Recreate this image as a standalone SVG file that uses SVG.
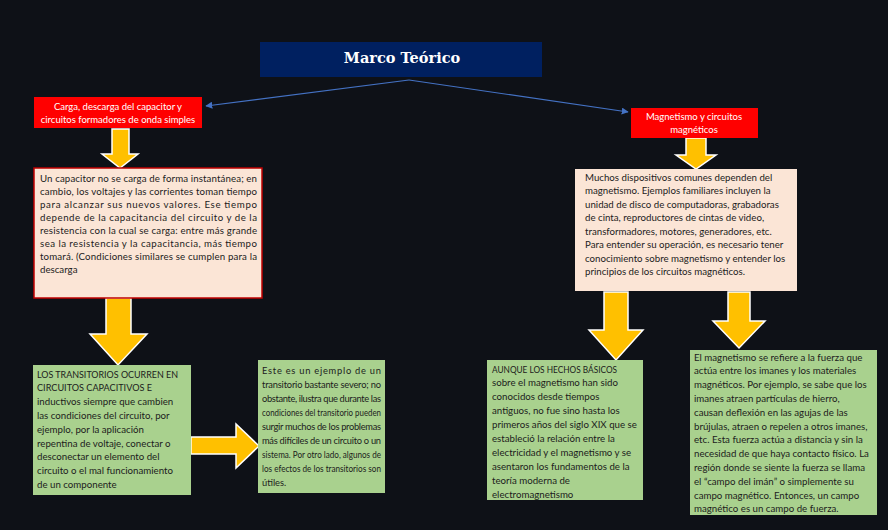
<svg xmlns="http://www.w3.org/2000/svg" width="888" height="530" viewBox="0 0 888 530">
<defs>
<style>
.bg{fill:#0e1117}
.title{fill:#002060}
.red{fill:#ff0000}
.peach{fill:#fbe5d6}
.peachb{fill:#fbe5d6;stroke:#c00000;stroke-width:1.5}
.green{fill:#a9d18e}
.tt{font-family:"DejaVu Serif",serif;font-weight:bold;font-size:14.5px;fill:#ffffff;text-anchor:middle}
.rt{font-family:Lato,"Liberation Sans",sans-serif;font-size:9.5px;fill:#ffffff;text-anchor:middle}
.bt{font-family:Lato,"Liberation Sans",sans-serif;font-size:9.7px;fill:#1c1c1c}
.st{font-family:Lato,"Liberation Sans",sans-serif;font-size:9.3px;fill:#1c1c1c}
.link{fill:none;stroke:#4472c4;stroke-width:1.2}
.ya{fill:#ffc000;stroke:#ffffff;stroke-width:1.5;stroke-linejoin:miter}
</style>
<marker id="ah" viewBox="0 0 10 10" refX="9" refY="5" markerWidth="7" markerHeight="7" orient="auto" markerUnits="userSpaceOnUse">
<path d="M0,0 L10,5 L0,10 z" fill="#4472c4"/>
</marker>
</defs>
<rect class="bg" x="0" y="0" width="888" height="530"/>

<g id="connectors">
<line class="link" x1="409" y1="80" x2="206" y2="106" marker-end="url(#ah)"/>
<line class="link" x1="409" y1="80" x2="628" y2="112" marker-end="url(#ah)"/>
<polygon class="ya" points="112,129 129,129 129,154 138,154 120,168 102,154 112,154"/>
<polygon class="ya" points="106,298 131,298 131,334 147,334 118,365 90,334 106,334"/>
<polygon class="ya" points="191,437 236,437 236,424 259,446 236,468 236,454 191,454"/>
<polygon class="ya" points="686,138 706,138 706,155 716,155 696,169 676,155 686,155"/>
<polygon class="ya" points="604,292 628,292 628,330 643,330 616,360 589,330 604,330"/>
<polygon class="ya" points="728,292 750,292 750,321 765,321 739,348 713,321 728,321"/>
</g>

<g id="marco-teorico">
<rect class="title" x="260" y="42" width="282" height="35"/>
<text class="tt" x="402" y="63">Marco Teórico</text>
</g>

<g id="carga-descarga">
<rect class="red" x="34" y="97" width="168" height="31"/>
<text class="rt" x="118" y="110">Carga, descarga del capacitor y</text>
<text class="rt" x="118" y="122.5">circuitos formadores de onda simples</text>
</g>

<g id="magnetismo">
<rect class="red" x="631" y="108" width="127" height="30"/>
<text class="rt" x="694" y="120">Magnetismo y circuitos</text>
<text class="rt" x="694" y="132.5">magnéticos</text>
</g>

<g id="capacitor-texto">
<rect class="peachb" x="34" y="168" width="228" height="130"/>
<text class="bt" x="40" y="181.5" textLength="217" lengthAdjust="spacing">Un capacitor no se carga de forma instantánea; en</text>
<text class="bt" x="40" y="194.5" textLength="217" lengthAdjust="spacing">cambio, los voltajes y las corrientes toman tiempo</text>
<text class="bt" x="40" y="207.5" textLength="217" lengthAdjust="spacing">para alcanzar sus nuevos valores. Ese tiempo</text>
<text class="bt" x="40" y="220.5" textLength="217" lengthAdjust="spacing">depende de la capacitancia del circuito y de la</text>
<text class="bt" x="40" y="233.5" textLength="217" lengthAdjust="spacing">resistencia con la cual se carga: entre más grande</text>
<text class="bt" x="40" y="246.5" textLength="217" lengthAdjust="spacing">sea la resistencia y la capacitancia, más tiempo</text>
<text class="bt" x="40" y="259.5" textLength="217" lengthAdjust="spacing">tomará. (Condiciones similares se cumplen para la</text>
<text class="bt" x="40" y="272.5">descarga</text>
</g>

<g id="magnetismo-texto">
<rect class="peach" x="575" y="169" width="222" height="122"/>
<text class="bt" x="585" y="180.5">Muchos dispositivos comunes dependen del</text>
<text class="bt" x="585" y="194">magnetismo. Ejemplos familiares incluyen la</text>
<text class="bt" x="585" y="207.5">unidad de disco de computadoras, grabadoras</text>
<text class="bt" x="585" y="221">de cinta, reproductores de cintas de video,</text>
<text class="bt" x="585" y="234.5">transformadores, motores, generadores, etc.</text>
<text class="bt" x="585" y="248">Para entender su operación, es necesario tener</text>
<text class="bt" x="585" y="261.5">conocimiento sobre magnetismo y entender los</text>
<text class="bt" x="585" y="275">principios de los circuitos magnéticos.</text>
</g>

<g id="transitorios">
<rect class="green" x="33" y="365" width="158" height="130"/>
<text class="bt" x="37" y="377.5" textLength="141" lengthAdjust="spacingAndGlyphs">LOS TRANSITORIOS OCURREN EN</text>
<text class="bt" x="37" y="391.3" textLength="115" lengthAdjust="spacingAndGlyphs">CIRCUITOS CAPACITIVOS E</text>
<text class="bt" x="37" y="405.1">inductivos siempre que cambien</text>
<text class="bt" x="37" y="418.9">las condiciones del circuito, por</text>
<text class="bt" x="37" y="432.7">ejemplo, por la aplicación</text>
<text class="bt" x="37" y="446.5">repentina de voltaje, conectar o</text>
<text class="bt" x="37" y="460.3">desconectar un elemento del</text>
<text class="bt" x="37" y="474.1">circuito o el mal funcionamiento</text>
<text class="bt" x="37" y="487.9">de un componente</text>
</g>

<g id="ejemplo-transitorio">
<rect class="green" x="258" y="360" width="127" height="133"/>
<text class="st" x="262" y="373.5" textLength="119" lengthAdjust="spacing">Este es un ejemplo de un</text>
<text class="st" x="262" y="387.5" textLength="119" lengthAdjust="spacing">transitorio bastante severo; no</text>
<text class="st" x="262" y="401.5" textLength="119" lengthAdjust="spacing">obstante, ilustra que durante las</text>
<text class="st" x="262" y="415.5" textLength="119" lengthAdjust="spacingAndGlyphs">condiciones del transitorio pueden</text>
<text class="st" x="262" y="429.5" textLength="119" lengthAdjust="spacing">surgir muchos de los problemas</text>
<text class="st" x="262" y="443.5" textLength="119" lengthAdjust="spacing">más difíciles de un circuito o un</text>
<text class="st" x="262" y="457.5" textLength="119" lengthAdjust="spacingAndGlyphs">sistema. Por otro lado, algunos de</text>
<text class="st" x="262" y="471.5" textLength="119" lengthAdjust="spacingAndGlyphs">los efectos de los transitorios son</text>
<text class="st" x="262" y="485.5">útiles.</text>
</g>

<g id="hechos-basicos">
<rect class="green" x="487" y="360" width="156" height="140"/>
<text class="bt" x="492" y="372.5" textLength="125" lengthAdjust="spacingAndGlyphs">AUNQUE LOS HECHOS BÁSICOS</text>
<text class="bt" x="492" y="386.4">sobre el magnetismo han sido</text>
<text class="bt" x="492" y="400.3">conocidos desde tiempos</text>
<text class="bt" x="492" y="414.2">antiguos, no fue sino hasta los</text>
<text class="bt" x="492" y="428.1">primeros años del siglo XIX que se</text>
<text class="bt" x="492" y="442">estableció la relación entre la</text>
<text class="bt" x="492" y="455.9">electricidad y el magnetismo y se</text>
<text class="bt" x="492" y="469.8">asentaron los fundamentos de la</text>
<text class="bt" x="492" y="483.7">teoría moderna de</text>
<text class="bt" x="492" y="497.6">electromagnetismo</text>
</g>

<g id="definicion-magnetismo">
<rect class="green" x="690" y="350" width="187" height="165"/>
<text class="bt" x="694" y="360.5">El magnetismo se refiere a la fuerza que</text>
<text class="bt" x="694" y="374.3">actúa entre los imanes y los materiales</text>
<text class="bt" x="694" y="388.1">magnéticos. Por ejemplo, se sabe que los</text>
<text class="bt" x="694" y="401.9">imanes atraen partículas de hierro,</text>
<text class="bt" x="694" y="415.7">causan deflexión en las agujas de las</text>
<text class="bt" x="694" y="429.5">brújulas, atraen o repelen a otros imanes,</text>
<text class="bt" x="694" y="443.3">etc. Esta fuerza actúa a distancia y sin la</text>
<text class="bt" x="694" y="457.1">necesidad de que haya contacto físico. La</text>
<text class="bt" x="694" y="470.9">región donde se siente la fuerza se llama</text>
<text class="bt" x="694" y="484.7">el “campo del imán” o simplemente su</text>
<text class="bt" x="694" y="498.5">campo magnético. Entonces, un campo</text>
<text class="bt" x="694" y="512.3">magnético es un campo de fuerza.</text>
</g>
</svg>
